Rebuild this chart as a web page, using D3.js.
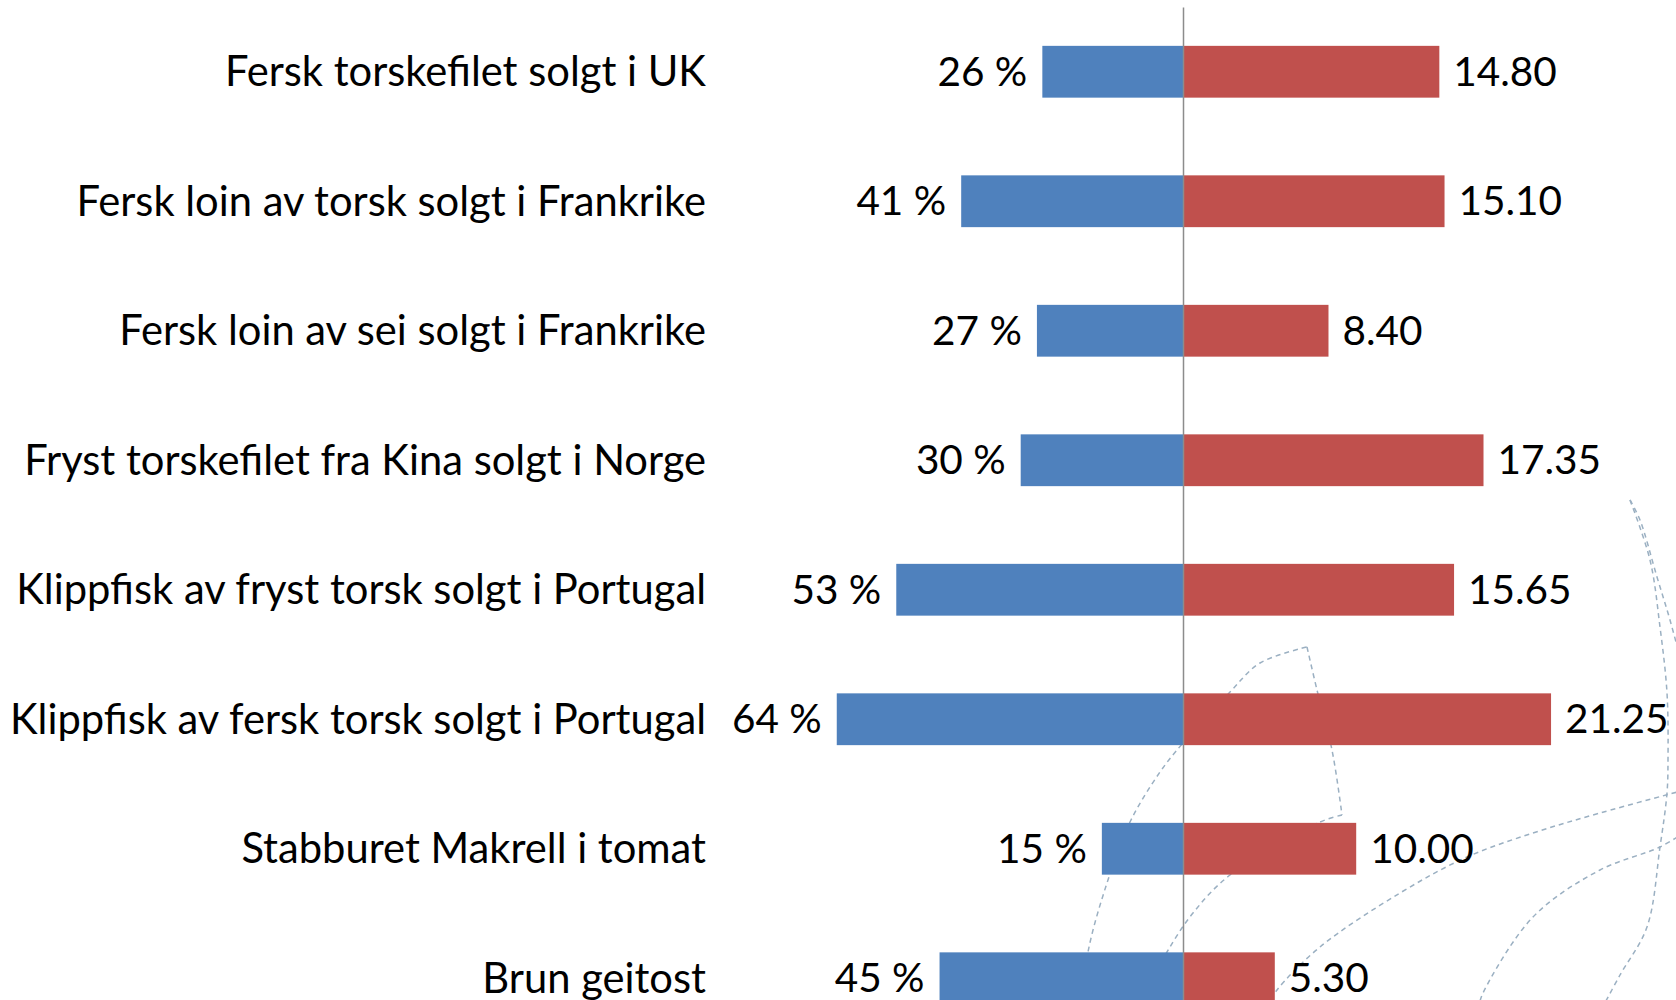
<!DOCTYPE html>
<html>
<head>
<meta charset="utf-8">
<script src="https://cdn.jsdelivr.net/npm/d3@7"></script>
<style>
    body { margin: 0; background: #fff; }
    #chart { width: 1676px; height: 1000px; }
    text { font-family: Lato, "Open Sans", sans-serif; fill: #000; }
</style>
</head>
<body>
<div id="chart"></div>
<script>
var categories = [
    "Fersk torskefilet solgt i UK",
    "Fersk loin av torsk solgt i Frankrike",
    "Fersk loin av sei solgt i Frankrike",
    "Fryst torskefilet fra Kina solgt i Norge",
    "Klippfisk av fryst torsk solgt i Portugal",
    "Klippfisk av fersk torsk solgt i Portugal",
    "Stabburet Makrell i tomat",
    "Brun geitost"
];
// left side, percent
var shares = [26, 41, 27, 30, 53, 64, 15, 45];
// right side
var prices = [14.80, 15.10, 8.40, 17.35, 15.65, 21.25, 10.00, 5.30];

// dashed globe lines from the slide background (not data)
var bgArcs = [
    [[1630, 500], [1650, 560], [1660, 627], [1667, 693], [1668, 760], [1667, 793], [1660, 847], [1647, 927], [1620, 975], [1600, 1012]],
    [[1630, 500], [1640, 520], [1657, 577], [1670, 620], [1682, 665]],
    [[1082, 1005], [1088, 952], [1107, 883], [1130, 822], [1160, 772], [1183, 743], [1230, 692], [1260, 663], [1307, 647]],
    [[1307, 647], [1317, 690], [1332, 750], [1342, 815]],
    [[1342, 815], [1320, 822], [1230, 875], [1193, 913], [1167, 952], [1150, 985], [1143, 1005]],
    [[1685, 790], [1600, 813], [1533, 833], [1467, 857], [1400, 893], [1320, 947], [1277, 990], [1268, 1005]],
    [[1685, 832], [1660, 847], [1600, 870], [1533, 917], [1483, 993], [1479, 1005]]
];

var draw_chart = {
    width: 0,
    height: 0,
    div: 0,
    view: 0,
    center: 1183,

    initialize: function() {
        var self = this;
        self.div = "#chart";
        self.width = 1676;
        self.height = 1000;
        self.view = d3.select(self.div).append("svg")
            .attr("width", self.width)
            .attr("height", self.height);
        self.draw();
    },
    draw: function() {
        var self = this;

        var x = d3.scaleLinear().domain([0, 25]).range([self.center, self.center + 433]),
            xPct = d3.scaleLinear().domain([0, 100]).range([self.center, self.center - 541]),
            y = d3.scaleBand().domain(categories).range([7, 1043]).paddingInner(0.6).paddingOuter(0.3);

        var rows = categories.map(function(c, i) {
            return { name: c, share: shares[i], price: prices[i] };
        });

        // background decoration
        var line = d3.line().curve(d3.curveCatmullRom);
        self.view.append("g")
            .selectAll("path")
            .data(bgArcs)
            .enter().append("path")
            .attr("d", line)
            .attr("fill", "none")
            .attr("stroke", "#9bb0c2")
            .attr("stroke-width", 1.5)
            .attr("stroke-dasharray", "5,4");

        var bars = self.view.append("g");
        bars.selectAll(".share")
            .data(rows)
            .enter().append("rect")
            .attr("class", "share")
            .attr("x", function(d) { return xPct(d.share); })
            .attr("y", function(d) { return y(d.name); })
            .attr("width", function(d) { return xPct(0) - xPct(d.share); })
            .attr("height", y.bandwidth())
            .attr("fill", "#4f81bd");

        bars.selectAll(".price")
            .data(rows)
            .enter().append("rect")
            .attr("class", "price")
            .attr("x", x(0))
            .attr("y", function(d) { return y(d.name); })
            .attr("width", function(d) { return x(d.price) - x(0); })
            .attr("height", y.bandwidth())
            .attr("fill", "#c0504d");

        // centre axis, no ticks
        var axis = self.view.append("g")
            .attr("transform", "translate(" + self.center + ",0)")
            .call(d3.axisLeft(y).tickSize(0).tickFormat(""));
        axis.select(".domain")
            .attr("stroke", "#8c8c8c")
            .attr("stroke-width", 1.5);

        var labels = self.view.append("g")
            .style("font-size", "40.5px");

        labels.selectAll(".cat")
            .data(rows)
            .enter().append("text")
            .attr("class", "cat")
            .attr("x", 706)
            .attr("y", function(d) { return y(d.name) + y.bandwidth() / 2; })
            .attr("dy", "0.35em")
            .attr("text-anchor", "end")
            .style("font-size", "41.7px")
            .text(function(d) { return d.name; });

        labels.selectAll(".shareLabel")
            .data(rows)
            .enter().append("text")
            .attr("class", "shareLabel")
            .attr("x", function(d) { return xPct(d.share) - 15; })
            .attr("y", function(d) { return y(d.name) + y.bandwidth() / 2; })
            .attr("dy", "0.35em")
            .attr("text-anchor", "end")
            .text(function(d) { return d.share + " %"; });

        labels.selectAll(".priceLabel")
            .data(rows)
            .enter().append("text")
            .attr("class", "priceLabel")
            .attr("x", function(d) { return x(d.price) + 14; })
            .attr("y", function(d) { return y(d.name) + y.bandwidth() / 2; })
            .attr("dy", "0.35em")
            .text(function(d) { return d3.format(".2f")(d.price); });
    }
};

draw_chart.initialize();
</script>
</body>
</html>
